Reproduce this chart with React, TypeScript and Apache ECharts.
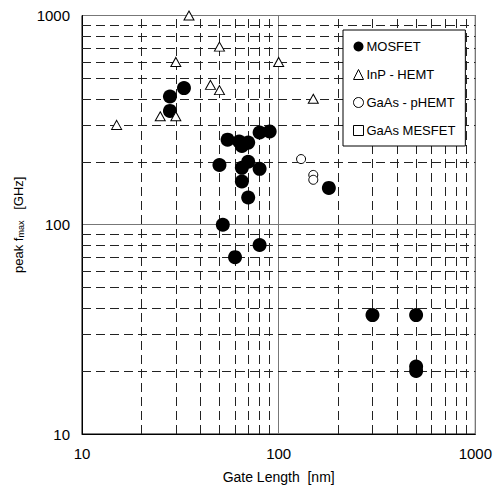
import React, { useEffect, useRef } from "react";
import * as echarts from "echarts";

// Gate length [nm] vs peak fmax [GHz]
const mosfetX = [28, 33, 28, 55, 63, 65, 70, 80, 90, 50, 70, 65, 80, 65, 70, 52, 80, 60, 180, 300, 500, 500, 500];
const mosfetY = [410, 450, 350, 255, 250, 238, 247, 276, 279, 193, 200, 187, 185, 161, 135, 100, 80, 70, 150, 37, 37, 21, 20];

const inpX = [35, 50, 30, 45, 50, 25, 30, 15, 100, 150];
const inpY = [1000, 710, 600, 466, 440, 330, 330, 300, 600, 400];

const phemtX = [130, 150, 150];
const phemtY = [206, 173, 164];

const mesfetX: number[] = [];
const mesfetY: number[] = [];

const seriesNames = ["MOSFET", "InP - HEMT", "GaAs - pHEMT", "GaAs MESFET"];

// Dashed minor grid values (both axes share the same decades)
const minorGrid = [20, 30, 40, 50, 60, 70, 80, 90, 200, 300, 400, 500, 600, 700, 800, 900];

const FONT = "Liberation Sans, Arial, sans-serif";

const pairs = (xs: number[], ys: number[]) => xs.map((x, i) => [x, ys[i]]);

export default function App() {
  const ref = useRef<HTMLDivElement>(null);

  useEffect(() => {
    if (!ref.current) return;
    const chart = echarts.init(ref.current, null, { renderer: "svg" });

    const logAxis = {
      type: "log" as const,
      logBase: 10,
      min: 10,
      max: 1000,
      axisLine: { show: true, lineStyle: { color: "#000", width: 1 } },
      axisTick: { show: false },
      minorTick: { show: false },
      splitLine: { show: true, lineStyle: { color: "#777", width: 1, type: "solid" as const } },
      axisLabel: {
        color: "#000",
        fontSize: 15,
        fontFamily: FONT,
        margin: 12,
        formatter: (v: number) => String(Math.round(v)),
      },
    };

    chart.setOption({
      animation: false,
      backgroundColor: "#fff",
      grid: {
        left: 82,
        right: 19,
        top: 15.5,
        bottom: 54,
        show: true,
        borderColor: "#000",
        borderWidth: 1,
        backgroundColor: "transparent",
      },
      xAxis: {
        ...logAxis,
        name: "Gate Length  [nm]",
        nameLocation: "middle",
        nameGap: 36,
        nameTextStyle: { color: "#000", fontSize: 14, fontFamily: FONT },
      },
      yAxis: {
        ...logAxis,
        name: "{a|peak f}{b|max}{a|   [GHz]}",
        nameLocation: "middle",
        nameRotate: 90,
        nameGap: 57,
        nameTextStyle: {
          color: "#000",
          fontFamily: FONT,
          rich: {
            a: { fontSize: 13, lineHeight: 18, fontFamily: FONT, color: "#000", verticalAlign: "bottom" },
            b: { fontSize: 9, lineHeight: 9, fontFamily: FONT, color: "#000", verticalAlign: "bottom" },
          },
        },
      },
      legend: {
        orient: "vertical",
        left: 343,
        top: 30,
        z: 20,
        data: seriesNames,
        backgroundColor: "#fff",
        borderColor: "#000",
        borderWidth: 1,
        padding: [10, 10, 9, 10],
        itemGap: 15,
        itemWidth: 10,
        itemHeight: 10,
        itemStyle: { borderWidth: 1 },
        textStyle: { color: "#000", fontSize: 13, fontFamily: FONT, padding: [0, 0, 0, -2] },
      },
      series: [
        {
          name: "grid",
          type: "scatter",
          data: [],
          z: 1,
          silent: true,
          markLine: {
            silent: true,
            z: 1,
            symbol: "none",
            label: { show: false },
            lineStyle: { color: "#222", width: 1, type: [9, 5] },
            data: [
              ...minorGrid.map((v) => ({ xAxis: v })),
              ...minorGrid.map((v) => ({ yAxis: v })),
            ],
          },
        },
        {
          name: seriesNames[0],
          type: "scatter",
          symbol: "circle",
          symbolSize: 14,
          z: 3,
          itemStyle: { color: "#000", opacity: 1 },
          data: pairs(mosfetX, mosfetY),
        },
        {
          name: seriesNames[1],
          type: "scatter",
          symbol: "triangle",
          symbolSize: [10, 9],
          z: 4,
          itemStyle: { color: "#fff", borderColor: "#000", borderWidth: 1, opacity: 1 },
          data: pairs(inpX, inpY),
        },
        {
          name: seriesNames[2],
          type: "scatter",
          symbol: "circle",
          symbolSize: 9,
          z: 4,
          itemStyle: { color: "#fff", borderColor: "#000", borderWidth: 1, opacity: 1 },
          data: pairs(phemtX, phemtY),
        },
        {
          name: seriesNames[3],
          type: "scatter",
          symbol: "rect",
          symbolSize: 10,
          z: 4,
          itemStyle: { color: "#fff", borderColor: "#000", borderWidth: 1, opacity: 1 },
          data: pairs(mesfetX, mesfetY),
        },
      ],
    });

    return () => chart.dispose();
  }, []);

  return <div ref={ref} style={{ width: 495, height: 489, position: "absolute", left: 0, top: 0 }} />;
}
